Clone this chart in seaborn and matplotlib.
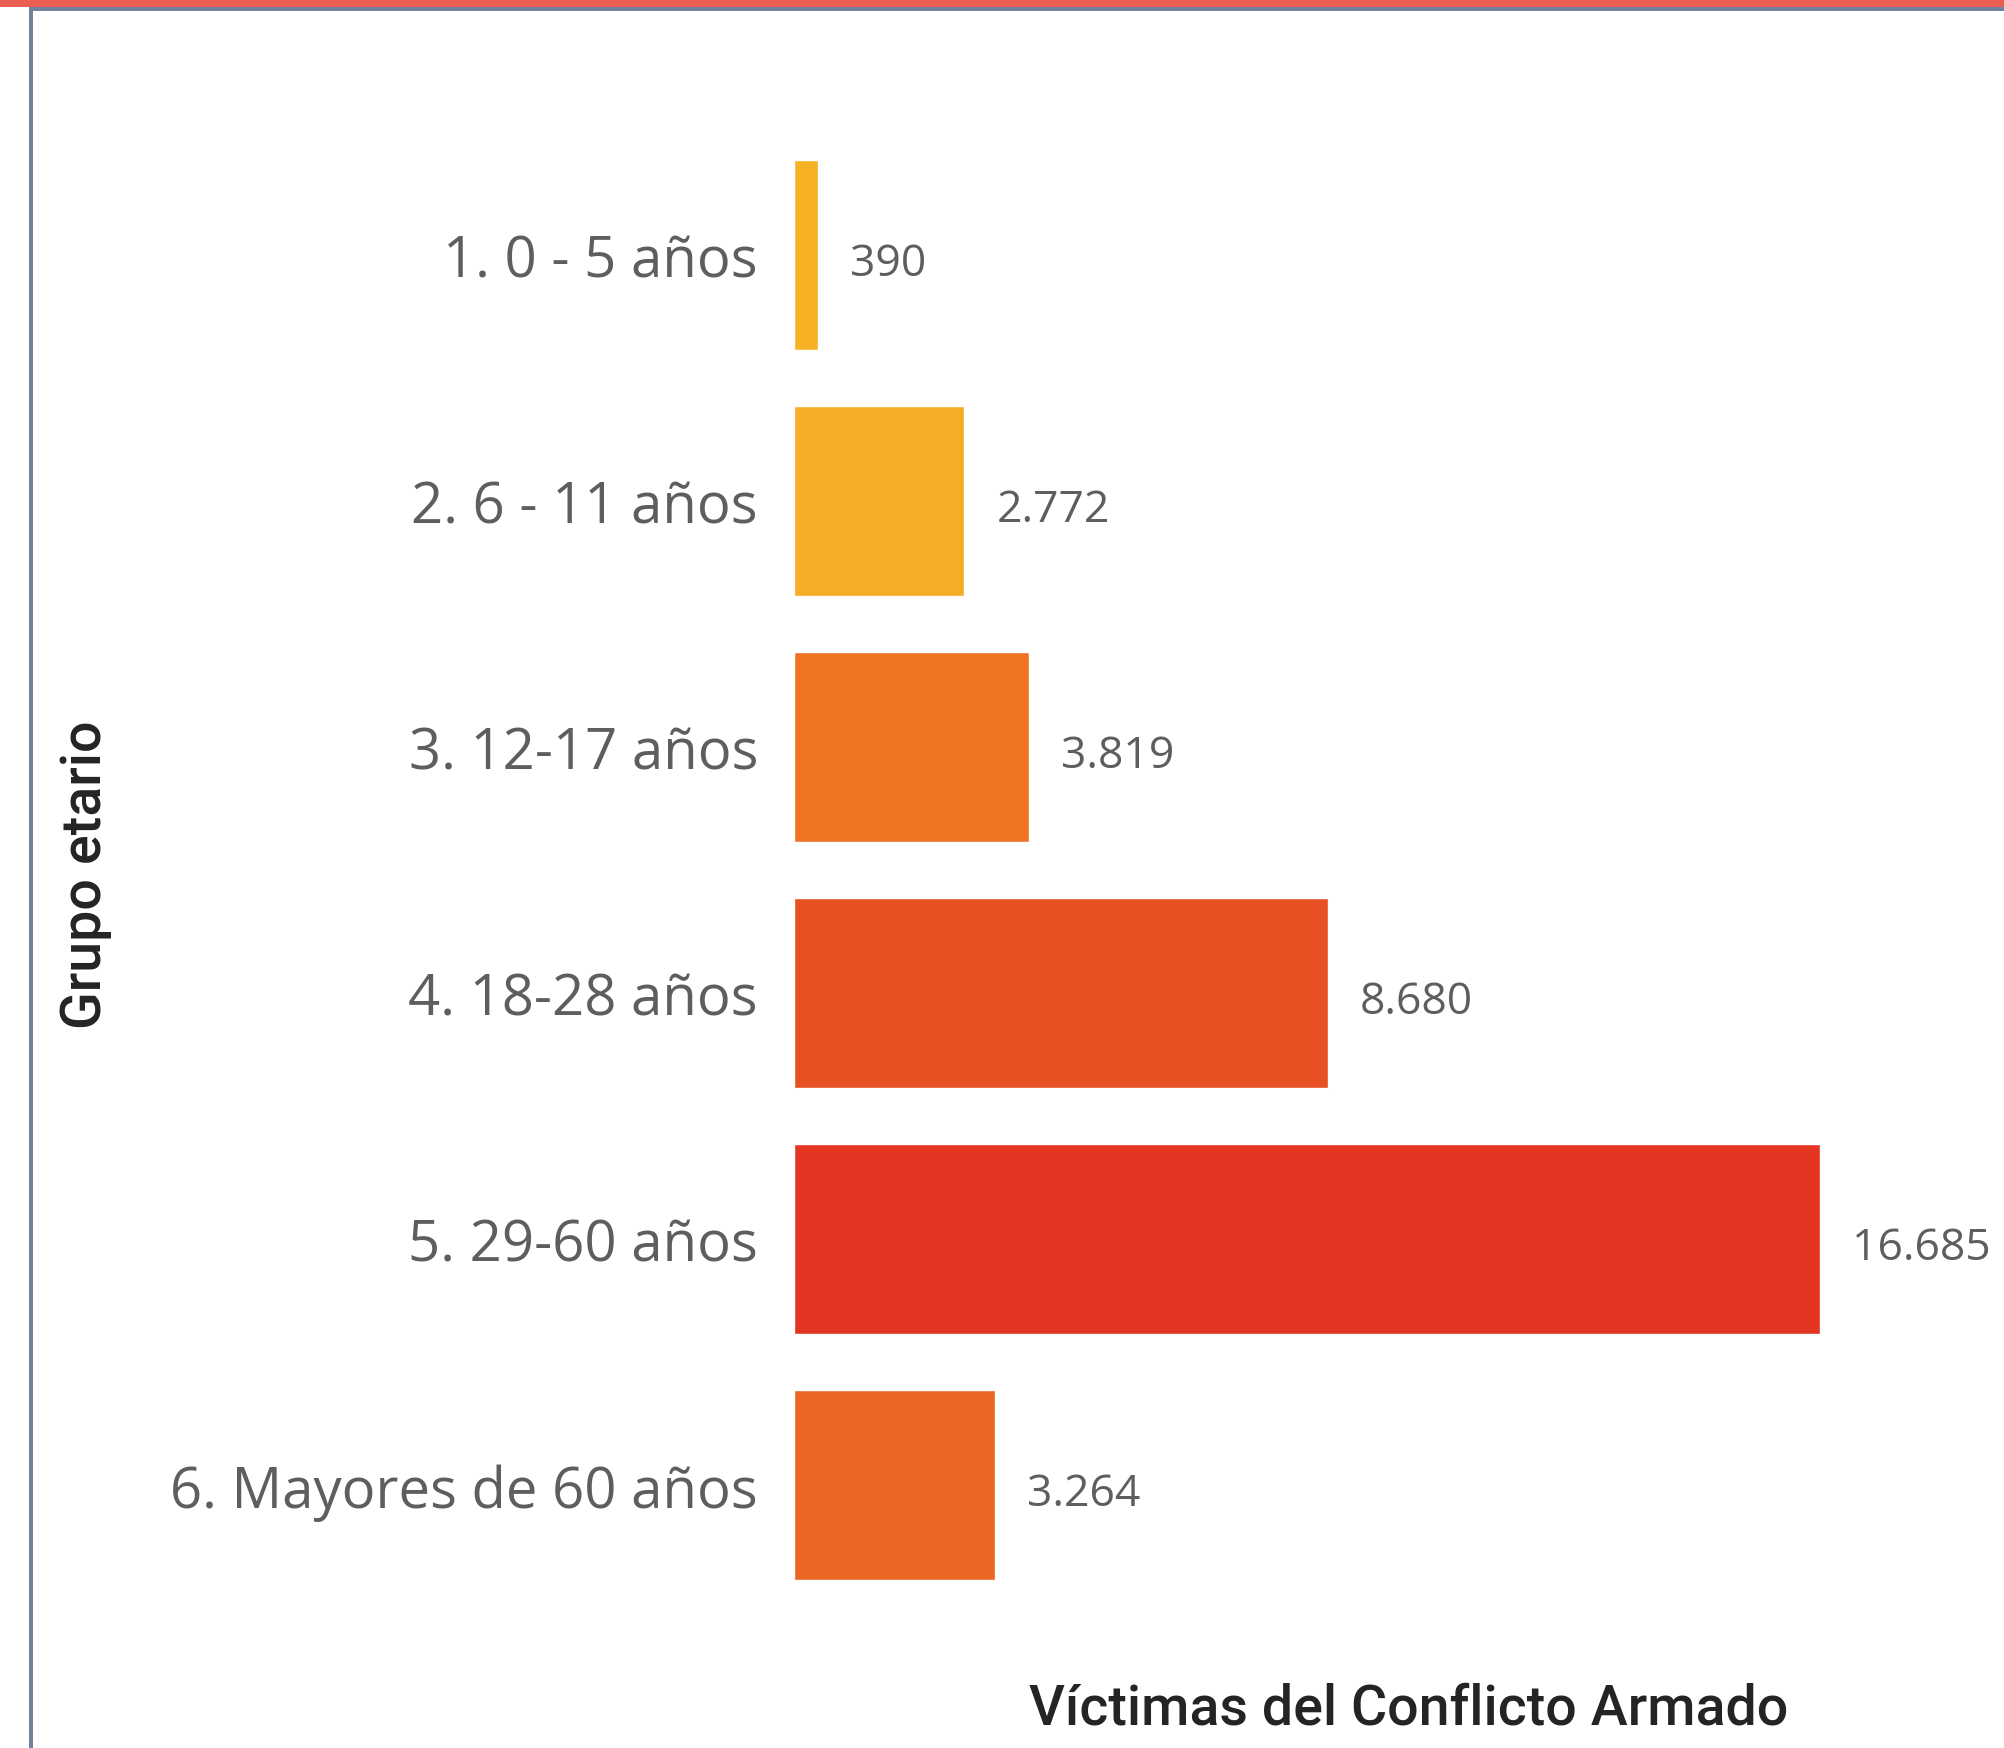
import numpy as np
import pandas as pd
import matplotlib
matplotlib.use("Agg")
import matplotlib.pyplot as plt
import seaborn as sns
from matplotlib.patches import Rectangle

# Data
grupos = ["1. 0 - 5 años", "2. 6 - 11 años", "3. 12-17 años",
          "4. 18-28 años", "5. 29-60 años", "6. Mayores de 60 años"]
victimas = [390, 2772, 3819, 8680, 16685, 3264]
colores = ["#F7B125", "#F5AC26", "#EE7424", "#E65022", "#E33522", "#EA6622"]

df = pd.DataFrame({"Grupo": grupos, "Victimas": victimas})

sns.set_theme(style="white")
plt.rcParams["font.family"] = ["Open Sans", "DejaVu Sans"]

W, H = 2004, 1749
fig = plt.figure(figsize=(W / 100, H / 100), dpi=100)
fig.patch.set_facecolor("white")

# axes placement (pixels)
left_px, right_px = 794, 2004
top_px, bottom_px = 133, 1609
ax = fig.add_axes([left_px / W, 1 - bottom_px / H,
                   (right_px - left_px) / W, (bottom_px - top_px) / H])

sns.barplot(data=df, y="Grupo", x="Victimas", hue="Grupo", palette=colores,
            legend=False, width=0.776, saturation=1, ax=ax)

# scale so the longest bar ends near x=1820 px
xmax = max(victimas) * (right_px - left_px) / (1820 - left_px)
ax.set_xlim(0, xmax)
ax.set_ylim(5.5, -0.5)

for s in ax.spines.values():
    s.set_visible(False)
ax.set_xticks([])
ax.set_xlabel("")
ax.set_ylabel("")
ax.tick_params(axis="y", length=0, pad=26, labelsize=40.5, labelcolor="#605E5C")

# value labels
for i, v in enumerate(victimas):
    txt = f"{v:,}".replace(",", ".")
    ax.annotate(txt, xy=(v, i), xytext=(23, -6), textcoords="offset points",
                ha="left", va="center", fontsize=32, color="#605E5C",
                annotation_clip=False)

# axis titles
fig.text(1409 / W, 1 - 1709 / H, "Víctimas del Conflicto Armado",
         ha="center", va="center", fontsize=40, color="#252423",
         family=["Roboto", "DejaVu Sans"], fontweight="medium")
fig.text(86 / W, 1 - 875 / H, "Grupo etario", rotation=90,
         ha="center", va="center", fontsize=40, color="#252423",
         family=["Roboto", "DejaVu Sans"], fontweight="medium")

# frame decorations
fig.patches.append(Rectangle((0, 1 - 8 / H), 1, 8 / H, transform=fig.transFigure,
                             facecolor="#E95E50", edgecolor="none"))
fig.patches.append(Rectangle((29 / W, 1 - 12 / H), 1, 4 / H, transform=fig.transFigure,
                             facecolor="#6F819C", edgecolor="none"))
fig.patches.append(Rectangle((29 / W, 0), 4 / W, 1 - 8 / H, transform=fig.transFigure,
                             facecolor="#6F819C", edgecolor="none"))

fig.savefig("out.png", dpi=100)
